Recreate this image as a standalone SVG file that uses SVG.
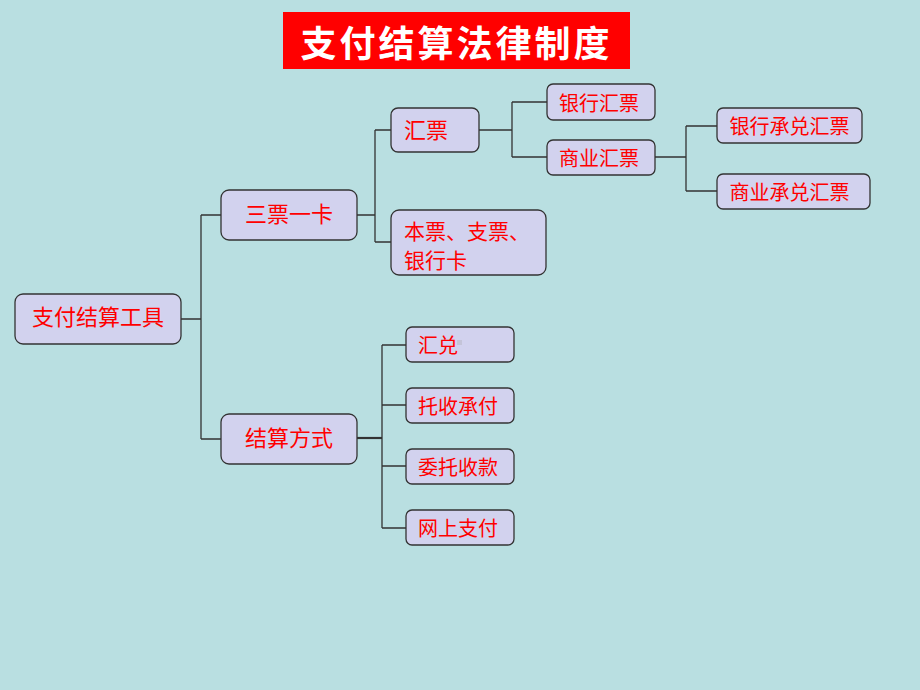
<svg xmlns="http://www.w3.org/2000/svg" width="920" height="690" viewBox="0 0 920 690">
<style>
.n rect{fill:#D2D2EE;stroke:#333;stroke-width:1.3}
.n text{fill:#FF0000;font-family:"Noto Sans CJK SC","Liberation Sans",sans-serif;dominant-baseline:central}
.l{font-size:22px}
.m{font-size:21px}
.s{font-size:20px}
.c{fill:none;stroke:#333;stroke-width:1.3}
</style>
<rect width="920" height="690" fill="#B9DFE1"/>
<g id="title">
<rect x="283" y="12" width="347" height="57" fill="#FF0000"/>
<text x="456.5" y="41" fill="#FFFFFF" font-family="Noto Sans CJK SC,sans-serif" font-size="36" font-weight="bold" text-anchor="middle" dominant-baseline="central" letter-spacing="3">支付结算法律制度</text>
</g>
<g id="connectors" class="c">
<path d="M181 319H201M201 215V439M201 215H221M201 439H221"/>
<path d="M357 215H375M375 130V242M375 130H391M375 242H391"/>
<path d="M479 130H512M512 102V157M512 102H547M512 157H547"/>
<path d="M655 157H686M686 126V191M686 126H717M686 191H717"/>
<path d="M357 438H382" stroke-width="2.2"/>
<path d="M382 345V528M382 345H406M382 405H406M382 466H406M382 528H406"/>
</g>
<g id="n-tools" class="n"><rect x="15" y="294" width="166" height="50" rx="8"/><text class="l" x="98" y="315" text-anchor="middle">支付结算工具</text></g>
<g id="n-sanpiao" class="n"><rect x="221" y="190" width="136" height="50" rx="8"/><text class="l" x="289" y="212" text-anchor="middle">三票一卡</text></g>
<g id="n-fangshi" class="n"><rect x="221" y="414" width="136" height="50" rx="8"/><text class="l" x="289" y="436" text-anchor="middle">结算方式</text></g>
<g id="n-huipiao" class="n"><rect x="391" y="108" width="88" height="44" rx="7"/><text class="l" x="404" y="128">汇票</text></g>
<g id="n-benpiao" class="n"><rect x="391" y="210" width="155" height="65" rx="8"/><text class="m" x="404" y="230">本票、支票、</text><text class="m" x="404" y="259">银行卡</text></g>
<g id="n-yhhp" class="n"><rect x="547" y="84" width="108" height="36" rx="6"/><text class="s" x="599" y="102" text-anchor="middle">银行汇票</text></g>
<g id="n-syhp" class="n"><rect x="547" y="140" width="108" height="35" rx="6"/><text class="s" x="599" y="157" text-anchor="middle">商业汇票</text></g>
<g id="n-yhcd" class="n"><rect x="717" y="108" width="145" height="35" rx="6"/><text class="s" x="789.5" y="125" text-anchor="middle">银行承兑汇票</text></g>
<g id="n-sycd" class="n"><rect x="717" y="174" width="153" height="35" rx="6"/><text class="s" x="789.5" y="191" text-anchor="middle">商业承兑汇票</text></g>
<g id="n-huidui" class="n"><rect x="406" y="327" width="108" height="35" rx="6"/><text class="s" x="418" y="344">汇兑</text><rect x="457" y="340" width="5" height="5" style="fill:#C4C4D8;stroke:none"/></g>
<g id="n-tuoshou" class="n"><rect x="406" y="388" width="108" height="35" rx="6"/><text class="s" x="418" y="405">托收承付</text></g>
<g id="n-weituo" class="n"><rect x="406" y="449" width="108" height="35" rx="6"/><text class="s" x="418" y="466">委托收款</text></g>
<g id="n-wangshang" class="n"><rect x="406" y="510" width="108" height="35" rx="6"/><text class="s" x="418" y="527">网上支付</text></g>
</svg>
